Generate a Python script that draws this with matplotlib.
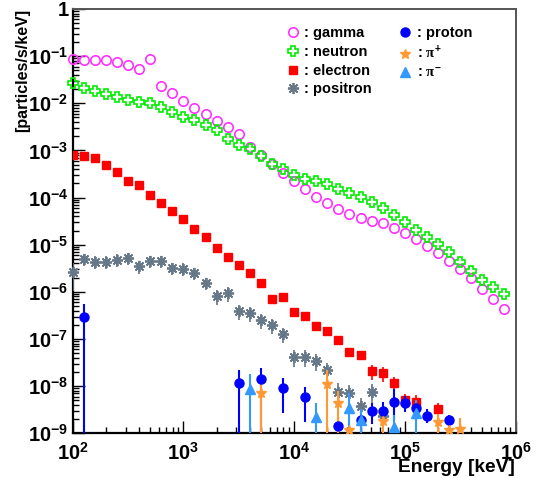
import numpy as np
import matplotlib.pyplot as plt
from matplotlib.lines import Line2D
from matplotlib.ticker import LogLocator, FuncFormatter, NullFormatter

plt.rcParams['font.family'] = 'Liberation Sans'
plt.rcParams['font.weight'] = 'bold'
plt.rcParams['mathtext.fontset'] = 'custom'
plt.rcParams['mathtext.rm'] = 'Liberation Sans:bold'
plt.rcParams['mathtext.bf'] = 'Liberation Sans:bold'
plt.rcParams['mathtext.it'] = 'Liberation Serif'

# energy bins (keV), 10 per decade
energy = np.logspace(2, 5.9, 40)

gamma = [8.5e-2, 8.2e-2, 8.3e-2, 8.1e-2, 7.6e-2, 6.5e-2, 5.4e-2, 8.5e-2, 2.3e-2, 1.66e-2,
         1.12e-2, 7.8e-3, 5.8e-3, 4.3e-3, 3.2e-3, 2.2e-3, 1.2e-3, 7.9e-4, 5.1e-4, 3.3e-4,
         2.2e-4, 1.55e-4, 1.05e-4, 7.6e-5, 5.8e-5, 4.5e-5, 3.7e-5, 3.2e-5, 2.9e-5, 2.3e-5,
         1.8e-5, 1.32e-5, 9.5e-6, 6.8e-6, 4.6e-6, 3.1e-6, 1.95e-6, 1.17e-6, 7.1e-7, 4.3e-7]
neutron = [2.7e-2, 2.1e-2, 1.8e-2, 1.55e-2, 1.35e-2, 1.17e-2, 1.07e-2, 1.02e-2, 8.5e-3, 6.5e-3,
           5.1e-3, 4.4e-3, 3.4e-3, 2.7e-3, 1.74e-3, 1.32e-3, 1.07e-3, 7.6e-4, 5.2e-4, 4.0e-4,
           3.0e-4, 2.5e-4, 2.3e-4, 1.95e-4, 1.55e-4, 1.26e-4, 1.05e-4, 7.9e-5, 5.9e-5, 4.2e-5,
           3.0e-5, 2.1e-5, 1.48e-5, 1.05e-5, 6.9e-6, 4.4e-6, 2.75e-6, 1.82e-6, 1.26e-6, 9.1e-7]
electron = [7.9e-4, 7.6e-4, 6.8e-4, 4.9e-4, 3.5e-4, 2.3e-4, 1.82e-4, 1.12e-4, 7.6e-5, 5.2e-5,
            3.5e-5, 2.2e-5, 1.48e-5, 8.7e-6, 5.6e-6, 3.7e-6, 2.5e-6, 1.51e-6, 7.1e-7, 7.8e-7,
            3.7e-7, 3.1e-7, 1.86e-7, 1.48e-7, 9.3e-8, 5.2e-8, 4.5e-8, 2.1e-8, 1.86e-8, 1.15e-8,
            5.0e-9, 4.7e-9, np.nan, 3.2e-9]
electron_relerr = [0.05] * 27 + [0.35] * 7
positron = [2.6e-6, 5.0e-6, 4.4e-6, 4.4e-6, 4.8e-6, 5.2e-6, 3.5e-6, 4.5e-6, 4.5e-6, 3.2e-6,
            3.1e-6, 2.5e-6, 1.55e-6, 8.1e-7, 9.3e-7, 3.9e-7, 3.6e-7, 2.5e-7, 2.0e-7, 1.29e-7,
            4.2e-8, 4.2e-8, 3.5e-8, 2.2e-8, 7.6e-9, 7.2e-9, 3.8e-9, 7.4e-9, 2.3e-9]
positron_relerr = [0.6] + [0.3] * 12 + [0.35] * 7 + [0.4] * 4 + [0.5] * 5

proton_bin = [1, 15, 17, 19, 21, 24, 26, 27, 28, 29, 30, 31, 32, 34]
proton = [2.95e-7, 1.17e-8, 1.45e-8, 9.1e-9, 5.8e-9, 1.41e-9, 1.9e-9, 2.95e-9, 2.95e-9, 4.7e-9,
          4.5e-9, 3.5e-9, 2.3e-9, 1.9e-9]
proton_hi = [5.6e-7, 2.24e-8, 2.45e-8, 1.51e-8, 9.8e-9, 2.24e-9, 2.8e-9, 4.5e-9, 4.7e-9, 8.9e-9,
             6.3e-9, 5.2e-9, 3.2e-9, 2.4e-9]
proton_lo = [0, 0, 0, 2.75e-9, 1.7e-9, 0, 0, 1.6e-9, 1.4e-9, 1.8e-9,
             2.8e-9, 1.8e-9, 1.66e-9, 1.41e-9]

pip_bin = [17, 23, 24, 25, 28, 33, 34, 35]
pip = [7.2e-9, 1.1e-8, 4.5e-9, 1.17e-9, 1.82e-9, 1.7e-9, 1.2e-9, 1.26e-9]
pip_hi = [1.45e-8, 2.24e-8, 7.9e-9, 1.6e-9, 3.2e-9, 2.6e-9, 1.6e-9, 2.1e-9]

pim_bin = [16, 22, 25, 26, 29, 31]
pim = [8.7e-9, 2.2e-9, 3.4e-9, 1.9e-9, 1.35e-9, 2.75e-9]
pim_hi = [1.78e-8, 4.5e-9, 7.1e-9, 3.2e-9, 2.5e-9, 5.0e-9]

c_gamma = '#ff33ff'
c_neutron = '#00ee00'
c_electron = '#ff0000'
c_positron = '#667788'
c_proton = '#0000ff'
c_pip = '#ff9933'
c_pim = '#3399ff'

fig = plt.figure(figsize=(5.37, 4.78), dpi=100)
ax = fig.add_axes([0.1354, 0.0935, 0.8246, 0.8877])
ax.set_xscale('log')
ax.set_yscale('log')
ax.set_xlim(1e2, 1e6)
ax.set_ylim(1e-9, 1)

ax.plot(energy, gamma, 'o', ms=6.8, mfc='none', mec=c_gamma, mew=1.2, clip_on=False, zorder=3)
ax.plot(energy, neutron, 'P', ms=7.5, mfc='none', mec=c_neutron, mew=1.2, clip_on=False, zorder=3)

e_el = energy[:len(electron)]
el = np.array(electron)
ax.errorbar(e_el, el, yerr=el * np.array(electron_relerr), fmt='s', ms=6, color=c_electron,
            ecolor=c_electron, elinewidth=1.2, capsize=0, zorder=3)
e_po = energy[:len(positron)]
po = np.array(positron)
ax.errorbar(e_po, po, yerr=po * np.array(positron_relerr), fmt='none', ecolor=c_positron,
            elinewidth=1.2, capsize=0, zorder=3)
ax.plot(e_po, po, marker=(8, 2, 0), ls='none', ms=8, mec=c_positron, mew=1.3,
        clip_on=False, zorder=4)

for bins, val, hi, lo, col, mk, ms in [
        (proton_bin, proton, proton_hi, proton_lo, c_proton, 'o', 6.5),
        (pip_bin, pip, pip_hi, [0] * len(pip), c_pip, '*', 7),
        (pim_bin, pim, pim_hi, [0] * len(pim), c_pim, '^', 6.5)]:
    v = np.array(val)
    yerr = [v - np.array(lo), np.array(hi) - v]
    ax.errorbar(energy[bins], v, yerr=yerr, fmt=mk, ms=ms, color=col, ecolor=col,
                elinewidth=1.5, capsize=0, zorder=5)

ax.xaxis.set_major_locator(LogLocator(base=10, numticks=10))
ax.xaxis.set_minor_locator(LogLocator(base=10, subs=range(2, 10), numticks=10))
ax.yaxis.set_major_locator(LogLocator(base=10, numticks=20))
ax.yaxis.set_minor_locator(LogLocator(base=10, subs=range(2, 10), numticks=20))
ax.xaxis.set_minor_formatter(NullFormatter())
ax.yaxis.set_minor_formatter(NullFormatter())


def fmt(v, pos):
    e = int(round(np.log10(v)))
    if e == 0:
        return '1'
    return r'$\mathbf{10^{%d}}$' % e


ax.xaxis.set_major_formatter(FuncFormatter(fmt))
ax.yaxis.set_major_formatter(FuncFormatter(fmt))
ax.tick_params(which='major', direction='in', length=8.6, width=1, labelsize=14.5,
               top=False, right=False)
ax.tick_params(which='minor', direction='in', length=4.3, width=1, top=False, right=False)
ax.tick_params(axis='x', pad=6)
ax.tick_params(axis='y', pad=3)

for s in ['left', 'bottom']:
    ax.spines[s].set_linewidth(1.6)
    ax.spines[s].set_color('black')
for s in ['top', 'right']:
    ax.spines[s].set_linewidth(1.4)
    ax.spines[s].set_color('#555555')

fig.text(23 / 537, 1 - 9 / 478, '[particles/s/keV]', rotation=90, ha='center', va='top',
         fontsize=11.5, fontweight='bold')
fig.text(515 / 537, 1 - 471.5 / 478, 'Energy [keV]', ha='right', va='baseline',
         fontsize=13.8, fontweight='bold')

handles = [
    Line2D([], [], marker='o', ls='none', ms=6.8, mfc='none', mec=c_gamma, mew=1.2),
    Line2D([], [], marker='P', ls='none', ms=7.5, mfc='none', mec=c_neutron, mew=1.2),
    Line2D([], [], marker='s', ls='none', ms=6, color=c_electron),
    Line2D([], [], marker=(8, 2, 0), ls='none', ms=8, mec=c_positron, mew=1.3),
    Line2D([], [], marker='o', ls='none', ms=6.5, color=c_proton),
    Line2D([], [], marker='*', ls='none', ms=7, color=c_pip),
    Line2D([], [], marker='^', ls='none', ms=6.5, color=c_pim),
]
labels = [': gamma', ': neutron', ': electron', ': positron',
          ': proton', r': $\pi^{+}$', r': $\pi^{-}$']
fig.legend(handles, labels, ncol=2, loc='upper left', bbox_to_anchor=(287 / 537, 1 - 26.5 / 478),
           frameon=False, handlelength=0.8, handletextpad=0.4,
           columnspacing=1.85, labelspacing=0.32, borderpad=0, borderaxespad=0,
           prop={'weight': 'bold', 'size': 10.5})

fig.savefig('out.png', dpi=100)
